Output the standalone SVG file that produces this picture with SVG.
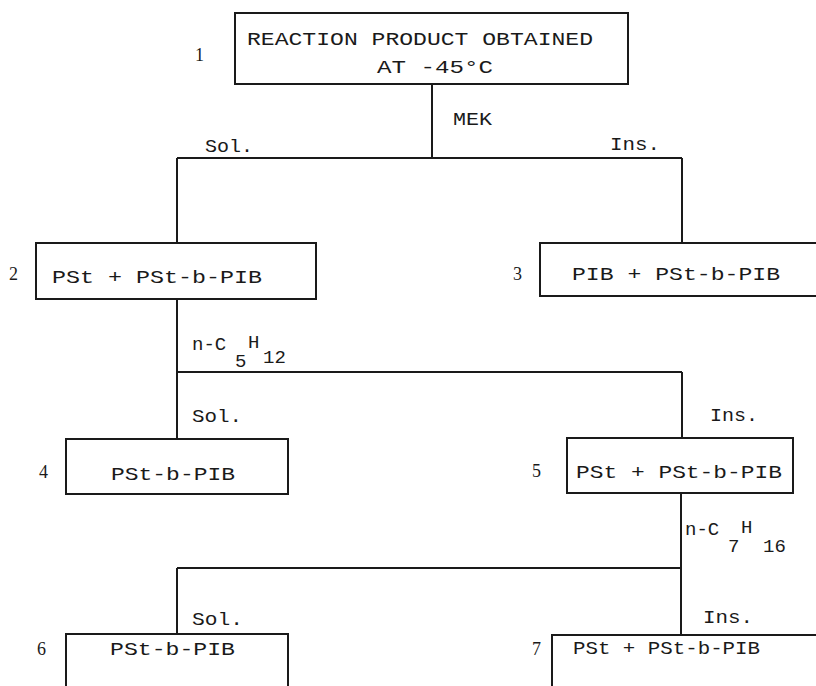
<svg xmlns="http://www.w3.org/2000/svg" width="816" height="686" viewBox="0 0 816 686">
<style>
.box{fill:#fff;stroke:#1a1a1a;stroke-width:2}
.ln{fill:none;stroke:#1a1a1a;stroke-width:2}
.t{font-family:"Liberation Mono","Courier New",monospace;font-size:19px;fill:#1a1a1a}
.n{font-family:"Liberation Serif","Times New Roman",serif;font-size:18px;fill:#1a1a1a}
</style>
<rect width="816" height="686" fill="#fff"/>
<g id="connectors">
<path class="ln" d="M432,84V158M177,158H682M177,158V243M682,158V243"/>
<path class="ln" d="M177,299V372M177,372H682M177,372V439M682,372V438"/>
<path class="ln" d="M681,493V568M177,568H681M177,568V634M681,568V635"/>
<text class="t" x="453" y="125" textLength="39" lengthAdjust="spacingAndGlyphs">MEK</text>
<text class="t" x="205" y="152" textLength="48" lengthAdjust="spacingAndGlyphs">Sol.</text>
<text class="t" x="610" y="150" textLength="50" lengthAdjust="spacingAndGlyphs">Ins.</text>
<text class="t"><tspan x="192" y="350">n-C</tspan><tspan x="235" y="367">5</tspan><tspan x="248" y="348">H</tspan><tspan x="263" y="363">12</tspan></text>
<text class="t" x="192" y="422" textLength="50" lengthAdjust="spacingAndGlyphs">Sol.</text>
<text class="t" x="710" y="421" textLength="48" lengthAdjust="spacingAndGlyphs">Ins.</text>
<text class="t"><tspan x="685" y="535">n-C</tspan><tspan x="728" y="552">7</tspan><tspan x="741" y="533">H</tspan><tspan x="763" y="552">16</tspan></text>
<text class="t" x="192" y="625" textLength="51" lengthAdjust="spacingAndGlyphs">Sol.</text>
<text class="t" x="703" y="623" textLength="50" lengthAdjust="spacingAndGlyphs">Ins.</text>
</g>
<g id="node1">
<rect class="box" x="235" y="13" width="393" height="71"/>
<text class="t" x="247" y="45" textLength="346" lengthAdjust="spacingAndGlyphs">REACTION PRODUCT OBTAINED</text>
<text class="t" x="377" y="73" textLength="116" lengthAdjust="spacingAndGlyphs">AT -45°C</text>
<text class="n" x="195" y="61">1</text>
</g>
<g id="node2">
<rect class="box" x="36" y="243" width="280" height="56"/>
<text class="t" x="52" y="283" textLength="210" lengthAdjust="spacingAndGlyphs">PSt + PSt-b-PIB</text>
<text class="n" x="9" y="280">2</text>
</g>
<g id="node3">
<rect class="box" x="540" y="243" width="290" height="53"/>
<text class="t" x="572" y="280" textLength="208" lengthAdjust="spacingAndGlyphs">PIB + PSt-b-PIB</text>
<text class="n" x="513" y="280">3</text>
</g>
<g id="node4">
<rect class="box" x="66" y="439" width="222" height="55"/>
<text class="t" x="111" y="480" textLength="124" lengthAdjust="spacingAndGlyphs">PSt-b-PIB</text>
<text class="n" x="39" y="478">4</text>
</g>
<g id="node5">
<rect class="box" x="567" y="438" width="226" height="55"/>
<text class="t" x="576" y="478" textLength="206" lengthAdjust="spacingAndGlyphs">PSt + PSt-b-PIB</text>
<text class="n" x="532" y="477">5</text>
</g>
<g id="node6">
<rect class="box" x="66" y="634" width="222" height="70"/>
<text class="t" x="110" y="655" textLength="125" lengthAdjust="spacingAndGlyphs">PSt-b-PIB</text>
<text class="n" x="37" y="655">6</text>
</g>
<g id="node7">
<rect class="box" x="552" y="635" width="280" height="70"/>
<text class="t" x="573" y="654" textLength="187" lengthAdjust="spacingAndGlyphs">PSt + PSt-b-PIB</text>
<text class="n" x="532" y="655">7</text>
</g>
</svg>
